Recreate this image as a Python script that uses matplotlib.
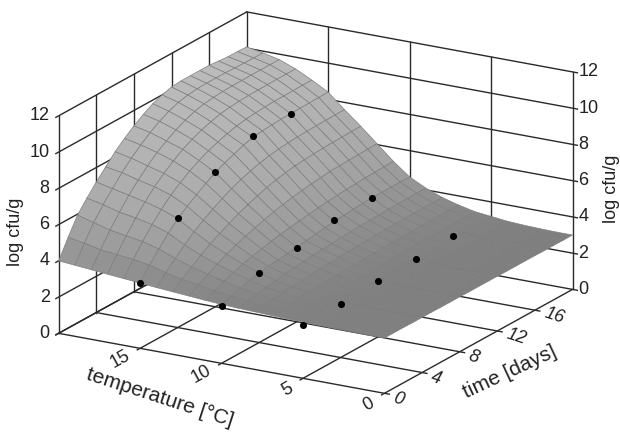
import matplotlib
matplotlib.use('Agg')
from matplotlib import pyplot as plt
from matplotlib.colors import LinearSegmentedColormap
from mpl_toolkits.mplot3d import proj3d
import numpy as np

plt.rcParams['font.family'] = ['Liberation Sans', 'DejaVu Sans']

time_grid = list(range(21))
temp_grid = list(range(21))

# log cfu/g, one row per temperature (0..20), columns are days (0..20)
surface_t00 = [3.05,3.05,3.05,3.04,3.04,3.04,3.03,3.03,3.03,3.02,3.02,3.02,3.02,3.01,3.01,3.01,3.01,3.00,3.00,3.00,3.00]
surface_t01 = [3.05,3.05,3.05,3.05,3.05,3.04,3.04,3.04,3.03,3.03,3.03,3.03,3.02,3.02,3.02,3.01,3.01,3.01,3.00,3.00,3.00]
surface_t02 = [3.06,3.06,3.06,3.06,3.05,3.05,3.05,3.05,3.05,3.04,3.04,3.04,3.04,3.03,3.03,3.03,3.03,3.02,3.02,3.02,3.02]
surface_t03 = [3.07,3.07,3.07,3.07,3.07,3.07,3.07,3.06,3.06,3.06,3.06,3.06,3.06,3.06,3.05,3.05,3.05,3.05,3.05,3.05,3.05]
surface_t04 = [3.08,3.08,3.08,3.08,3.08,3.09,3.09,3.09,3.09,3.09,3.09,3.09,3.09,3.10,3.10,3.10,3.10,3.10,3.10,3.10,3.10]
surface_t05 = [3.10,3.10,3.10,3.11,3.11,3.12,3.13,3.14,3.15,3.16,3.16,3.17,3.17,3.18,3.18,3.19,3.19,3.19,3.20,3.20,3.20]
surface_t06 = [3.12,3.13,3.14,3.15,3.16,3.17,3.18,3.19,3.20,3.21,3.22,3.23,3.24,3.25,3.26,3.27,3.28,3.28,3.29,3.29,3.30]
surface_t07 = [3.15,3.18,3.21,3.24,3.27,3.29,3.31,3.33,3.35,3.37,3.39,3.41,3.43,3.45,3.46,3.47,3.48,3.49,3.49,3.50,3.50]
surface_t08 = [3.18,3.24,3.30,3.36,3.42,3.46,3.50,3.54,3.57,3.60,3.63,3.65,3.67,3.69,3.70,3.72,3.73,3.74,3.74,3.75,3.75]
surface_t09 = [3.21,3.31,3.41,3.50,3.58,3.65,3.72,3.77,3.82,3.87,3.91,3.95,3.98,4.01,4.03,4.05,4.07,4.08,4.09,4.10,4.10]
surface_t10 = [3.25,3.42,3.58,3.72,3.85,3.92,3.98,4.04,4.10,4.18,4.26,4.33,4.40,4.44,4.48,4.52,4.55,4.55,4.55,4.55,4.55]
surface_t11 = [3.31,3.55,3.78,3.98,4.16,4.30,4.43,4.55,4.65,4.74,4.82,4.90,4.97,5.03,5.08,5.12,5.16,5.19,5.21,5.23,5.25]
surface_t12 = [3.38,3.70,4.00,4.28,4.54,4.76,4.96,5.14,5.30,5.44,5.56,5.67,5.76,5.84,5.90,5.95,5.98,6.00,6.02,6.04,6.05]
surface_t13 = [3.45,3.85,4.25,4.60,4.95,5.23,5.50,5.75,5.97,6.16,6.33,6.47,6.58,6.66,6.72,6.76,6.79,6.81,6.83,6.84,6.85]
surface_t14 = [3.52,4.05,4.55,5.00,5.45,5.80,6.12,6.42,6.68,6.90,7.08,7.23,7.35,7.43,7.49,7.53,7.55,7.57,7.58,7.59,7.60]
surface_t15 = [3.60,4.30,4.90,5.50,6.00,6.40,6.75,7.10,7.40,7.65,7.85,8.05,8.20,8.27,8.31,8.34,8.36,8.37,8.38,8.39,8.40]
surface_t16 = [3.68,4.45,5.15,5.80,6.35,6.85,7.25,7.60,7.90,8.15,8.35,8.52,8.66,8.75,8.81,8.85,8.87,8.88,8.89,8.90,8.90]
surface_t17 = [3.76,4.55,5.30,6.00,6.60,7.15,7.60,8.00,8.35,8.62,8.85,9.02,9.16,9.24,9.29,9.32,9.33,9.34,9.35,9.35,9.35]
surface_t18 = [3.84,4.65,5.45,6.15,6.80,7.35,7.85,8.30,8.65,8.97,9.22,9.42,9.55,9.62,9.66,9.68,9.69,9.70,9.70,9.70,9.70]
surface_t19 = [3.92,4.85,5.70,6.40,7.00,7.60,8.10,8.55,8.95,9.28,9.55,9.75,9.87,9.93,9.95,9.95,9.95,9.93,9.92,9.91,9.90]
surface_t20 = [4.00,5.00,5.95,6.60,7.20,7.75,8.30,8.75,9.15,9.50,9.80,10.00,10.15,10.20,10.20,10.20,10.20,10.15,10.10,10.10,10.07]

surface = np.array([surface_t00, surface_t01, surface_t02, surface_t03, surface_t04, surface_t05, surface_t06,
                    surface_t07, surface_t08, surface_t09, surface_t10, surface_t11, surface_t12, surface_t13,
                    surface_t14, surface_t15, surface_t16, surface_t17, surface_t18, surface_t19, surface_t20])

# measured points
dot_days = [0, 4, 8, 12, 16]
dots_15 = [3.63, 6.07, 7.45, 8.29, 8.35]
dots_10 = [3.14, 3.86, 4.09, 4.49, 4.56]
dots_5 = [2.92, 2.98, 3.05, 3.17, 3.24]

temp_ticks = [0, 5, 10, 15]
day_ticks = [0, 4, 8, 12, 16]
z_ticks = [0, 2, 4, 6, 8, 10, 12]

line_col = '#2a2a2a'
text_col = '#222222'

fig = plt.figure(figsize=(6.2, 4.32), dpi=100)
# 3d axes are forced square, so make the square as wide as the figure
ax = fig.add_axes([-0.0045, -0.206, 1, 620 / 432], projection='3d', proj_type='ortho', computed_zorder=False)
ax.view_init(elev=18.6, azim=-150)
ax.set_box_aspect((1, 1, 0.61), zoom=0.9072)
ax.set_xlim(0, 20, view_margin=0)
ax.set_ylim(0, 20, view_margin=0)
ax.set_zlim(0, 12, view_margin=0)
ax.set_axis_off()


def frame_line(xs, ys, zs):
    ax.plot(xs, ys, zs, color=line_col, lw=1.0, zorder=1)


def tick_label(x, y, z, s, dx, dy, **kw):
    # dx, dy in pixels from the projected point
    px, py, _ = proj3d.proj_transform(x, y, z, ax.get_proj())
    ax.annotate(s, (px, py), xytext=(dx * 0.72, dy * 0.72), textcoords='offset points',
                va='center', fontsize=13, color=text_col, annotation_clip=False, **kw)


# walls and floor
for z in z_ticks:
    frame_line([-0.3, 20], [20, 20], [z, z])
    frame_line([20, 20], [-0.3, 20], [z, z])
for d in [4, 8, 12, 16, 20]:
    frame_line([d, d], [20, 20], [0, 12])
for t in [5, 10, 15, 0]:
    frame_line([20, 20], [t, t], [0, 12])
for d in day_ticks:
    frame_line([d, d], [-0.3, 20], [0, 0])
for t in temp_ticks + [20]:
    frame_line([-0.3, 20], [t, t], [0, 0])
frame_line([0, 0], [20, 20], [0, 12])

greys = LinearSegmentedColormap.from_list(
    'greys', [(0.0, '#7f7f7f'), (0.1, '#8c8c8c'), (0.21, '#989898'), (0.42, '#a8a8a8'), (0.7, '#b2b2b2'), (1.0, '#bbbbbb')])
tt, dd = np.meshgrid(temp_grid, time_grid, indexing='ij')
ax.plot_surface(dd, tt, surface, rstride=1, cstride=1, cmap=greys, vmin=3, vmax=10.2,
                edgecolor='#7f7f7f', linewidth=0.5, antialiased=True, shade=False, zorder=2)

for temp, vals in zip([15, 10, 5], [dots_15, dots_10, dots_5]):
    ax.scatter(dot_days, [temp] * len(dot_days), vals, color='black', s=26, depthshade=False,
               linewidths=0, zorder=3)

# tick labels
for z in z_ticks:
    tick_label(0, 20, z, str(z), -9, 0, ha='right')
    tick_label(20, 0, z, str(z), 6, 0, ha='left')
for t in temp_ticks:
    tick_label(0, t, 0, str(t), -7, -11, ha='right', rotation=29)
for d in day_ticks:
    tick_label(d, 0, 0, str(d), 7, -6, ha='left', rotation=-18, style='italic')

fig.text(15 / 620, 1 - 232 / 432, 'log cfu/g', rotation=90, ha='center', va='center', fontsize=13, color=text_col)
fig.text(612 / 620, 1 - 189 / 432, 'log cfu/g', rotation=90, ha='center', va='center', fontsize=13, color=text_col)
fig.text(160 / 620, 1 - 398 / 432, 'temperature [°C]', rotation=-18, ha='center', va='center', fontsize=15, color=text_col)
fig.text(510 / 620, 1 - 372 / 432, 'time [days]', rotation=25, ha='center', va='center', fontsize=15, color=text_col)

fig.savefig('out.png', dpi=100)
